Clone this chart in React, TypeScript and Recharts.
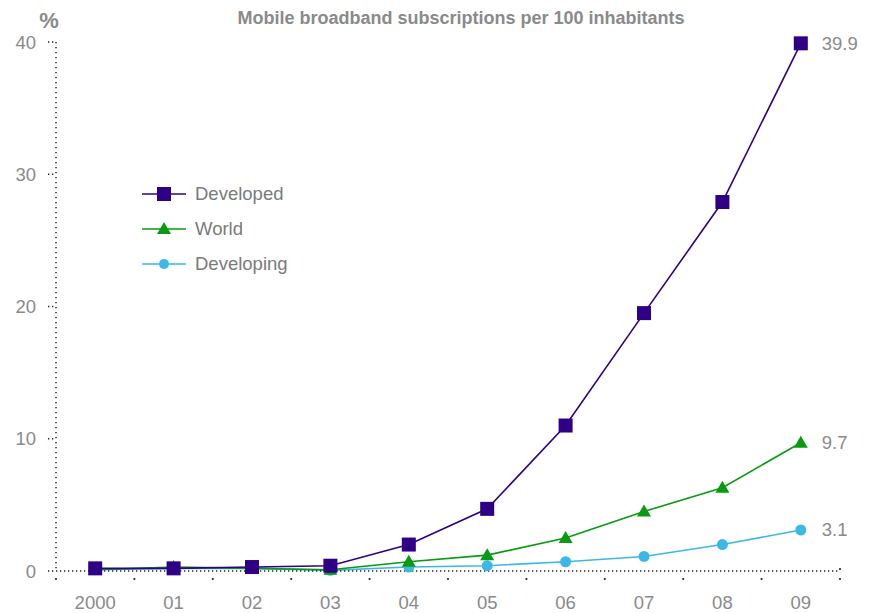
import React from "react";
import { LineChart, Line, XAxis, YAxis, LabelList } from "recharts";

const years = ["2000", "01", "02", "03", "04", "05", "06", "07", "08", "09"];
const developed = [0.2, 0.2, 0.3, 0.4, 2.0, 4.7, 11.0, 19.5, 27.9, 39.9];
const world = [0.1, 0.3, 0.2, 0.1, 0.7, 1.2, 2.5, 4.5, 6.3, 9.7];
const developing = [0.1, 0.2, 0.2, 0.05, 0.3, 0.4, 0.7, 1.1, 2.0, 3.1];
const yTicks = [0, 10, 20, 30, 40];

const data = years.map((y, i) => ({
  year: y,
  developed: developed[i],
  world: world[i],
  developing: developing[i],
}));

const C_DEV = "#2f0085";
const C_WORLD = "#0a9a12";
const C_DEVING = "#3cb8e8";
const GRAY = "#8a8a8a";
const FONT = "'Liberation Sans', Arial, Helvetica, sans-serif";
const FS = 18.5;
const HALF = 39.2;

const Square = (props: any) => {
  const { cx, cy, key } = props;
  if (cx == null || cy == null) return <g key={key} />;
  return <rect key={key} x={cx - 7} y={cy - 7} width={14} height={14} fill={C_DEV} />;
};
const Triangle = (props: any) => {
  const { cx, cy, key } = props;
  if (cx == null || cy == null) return <g key={key} />;
  return (
    <path
      key={key}
      d={`M${cx},${cy - 7} L${cx + 7},${cy + 5} L${cx - 7},${cy + 5} Z`}
      fill={C_WORLD}
    />
  );
};
const Circle = (props: any) => {
  const { cx, cy, key } = props;
  if (cx == null || cy == null) return <g key={key} />;
  return <circle key={key} cx={cx} cy={cy} r={5.5} fill={C_DEVING} />;
};

const lastLabel = (props: any) => {
  const { x, y, index, value } = props;
  if (index !== years.length - 1) return null;
  return (
    <text x={x + 21} y={y} dy="0.35em" fill={GRAY} fontSize={FS} fontFamily={FONT}>
      {value}
    </text>
  );
};

const XTick = (props: any) => {
  const { x, y, payload, index } = props;
  return (
    <g>
      <circle cx={x - HALF} cy={y + 8} r={1.1} fill="#222" />
      {index === years.length - 1 && (
        <>
          <circle cx={x + HALF} cy={y + 8} r={1.1} fill="#222" />
          <circle cx={x + HALF} cy={y - 2} r={1.1} fill="#222" />
        </>
      )}
      <text
        x={x}
        y={y + 38}
        textAnchor="middle"
        fill={GRAY}
        fontSize={FS}
        fontFamily={FONT}
      >
        {payload.value}
      </text>
    </g>
  );
};

const legendItems = [
  { name: "Developed", color: C_DEV, shape: "square" },
  { name: "World", color: C_WORLD, shape: "triangle" },
  { name: "Developing", color: C_DEVING, shape: "circle" },
];

const LegendBlock = ({ x, y }: { x: number; y: number }) => (
  <g transform={`translate(${x},${y})`}>
    {legendItems.map((it, i) => {
      const cy = i * 35;
      return (
        <g key={it.name}>
          <line x1={0} x2={44} y1={cy} y2={cy} stroke={it.color} strokeWidth={1.6} />
          {it.shape === "square" && <rect x={15} y={cy - 7} width={14} height={14} fill={it.color} />}
          {it.shape === "triangle" && (
            <path d={`M22,${cy - 7} L29,${cy + 5} L15,${cy + 5} Z`} fill={it.color} />
          )}
          {it.shape === "circle" && <circle cx={22} cy={cy} r={5} fill={it.color} />}
          <text x={53} y={cy} dy="0.35em" fill="#7a7a7a" fontSize={FS} fontFamily={FONT}>
            {it.name}
          </text>
        </g>
      );
    })}
  </g>
);

export default function App() {
  return (
    <div style={{ position: "absolute", left: 0, top: 0, width: 872, height: 613, background: "#fff" }}>
      <LineChart
        width={872}
        height={613}
        data={data}
        margin={{ top: 42, right: 32, bottom: 0, left: 0 }}
      >
        <text x={461} y={24} textAnchor="middle" fill={GRAY} fontSize={18} fontWeight="bold" fontFamily={FONT}>
          Mobile broadband subscriptions per 100 inhabitants
        </text>
        <text x={49} y={28} textAnchor="middle" fill={GRAY} fontSize={22} fontWeight="bold" fontFamily={FONT}>
          %
        </text>
        <LegendBlock x={142} y={194} />
        <XAxis
          dataKey="year"
          height={42}
          interval={0}
          tickSize={0}
          tickMargin={0}
          padding={{ left: HALF, right: HALF }}
          axisLine={{ stroke: "#222", strokeDasharray: "1.3 2.7", strokeWidth: 1.5 }}
          tickLine={false}
          tick={<XTick />}
        />
        <YAxis
          width={56}
          domain={[0, 40]}
          ticks={yTicks}
          interval={0}
          tickSize={8}
          tickMargin={12}
          axisLine={{ stroke: "#222", strokeDasharray: "1.3 3.7", strokeWidth: 1.5 }}
          tickLine={{ stroke: "#222", strokeDasharray: "1.3 2.7", strokeWidth: 1.5 }}
          tick={{ fill: GRAY, fontSize: FS, fontFamily: FONT }}
        />
        <Line
          dataKey="developing"
          name="Developing"
          stroke={C_DEVING}
          strokeWidth={1.6}
          dot={<Circle />}
          activeDot={false}
          isAnimationActive={false}
        >
          <LabelList dataKey="developing" content={lastLabel} />
        </Line>
        <Line
          dataKey="world"
          name="World"
          stroke={C_WORLD}
          strokeWidth={1.6}
          dot={<Triangle />}
          activeDot={false}
          isAnimationActive={false}
        >
          <LabelList dataKey="world" content={lastLabel} />
        </Line>
        <Line
          dataKey="developed"
          name="Developed"
          stroke={C_DEV}
          strokeWidth={1.6}
          dot={<Square />}
          activeDot={false}
          isAnimationActive={false}
        >
          <LabelList dataKey="developed" content={lastLabel} />
        </Line>
      </LineChart>
    </div>
  );
}
